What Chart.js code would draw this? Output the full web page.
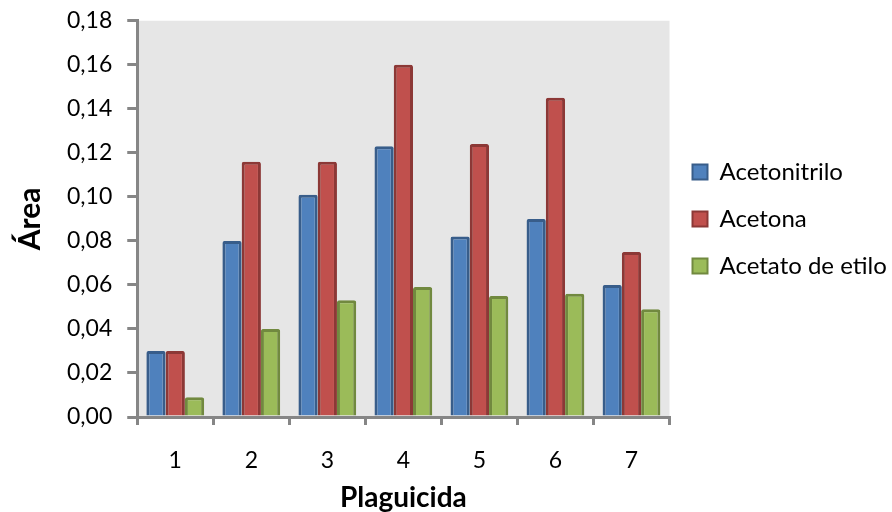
<!DOCTYPE html>
<html>
<head>
<meta charset="utf-8">
<script src="https://cdn.jsdelivr.net/npm/chart.js@4"></script>
<style>
  html, body { margin: 0; padding: 0; background: #fff; }
  #wrap { width: 892px; height: 512px; }
</style>
</head>
<body>
<div id="wrap"><canvas id="chartBox" width="892" height="512"></canvas></div>
<script>
// datos
var categorias = ['1', '2', '3', '4', '5', '6', '7'];
var acetonitrilo = [0.030, 0.080, 0.101, 0.123, 0.082, 0.090, 0.060];
var acetona = [0.030, 0.116, 0.116, 0.160, 0.124, 0.145, 0.075];
var acetatoEtilo = [0.009, 0.040, 0.053, 0.059, 0.055, 0.056, 0.049];
var series = ['Acetonitrilo', 'Acetona', 'Acetato de etilo'];

var fuente = "Lato";

// fondo gris del area de trazado
var fondoPlot = {
  id: 'fondoPlot',
  beforeDraw: function(chart) {
    var a = chart.chartArea, c = chart.ctx;
    c.save();
    c.fillStyle = '#e6e6e6';
    c.fillRect(a.left, a.top, a.right - a.left, a.bottom - a.top);
    c.restore();
  }
};

function drawChart(ctx) {
  return new Chart(ctx, {
    type: 'bar',
    data: {
      labels: categorias,
      datasets: [{
        label: series[0],
        data: acetonitrilo,
        backgroundColor: '#4f81bd',
        borderColor: '#385d8a',
        borderWidth: 3,
        borderRadius: 2,
        borderSkipped: 'bottom'
      }, {
        label: series[1],
        data: acetona,
        backgroundColor: '#c0504d',
        borderColor: '#8c3836',
        borderWidth: 3,
        borderRadius: 2,
        borderSkipped: 'bottom'
      }, {
        label: series[2],
        data: acetatoEtilo,
        backgroundColor: '#9bbb59',
        borderColor: '#71893f',
        borderWidth: 3,
        borderRadius: 2,
        borderSkipped: 'bottom'
      }]
    },
    options: {
      responsive: false,
      animation: false,
      datasets: { bar: { categoryPercentage: 0.76, barPercentage: 1 } },
      layout: { padding: { top: 0, right: 2, bottom: 0, left: 8 } },
      plugins: {
        legend: {
          position: 'right',
          align: 'center',
          fullSize: false,
          labels: {
            font: { family: fuente, size: 24 },
            color: '#000',
            boxWidth: 15,
            boxHeight: 15,
            padding: 23,
            generateLabels: function(chart) {
              return chart.data.datasets.map(function(ds, i) {
                return {
                  text: ds.label,
                  fillStyle: ds.backgroundColor,
                  strokeStyle: ds.borderColor,
                  lineWidth: 2,
                  datasetIndex: i
                };
              });
            }
          }
        },
        tooltip: { enabled: false }
      },
      scales: {
        x: {
          grid: { drawOnChartArea: false, drawTicks: true, tickLength: 8, color: '#868686', lineWidth: 3 },
          border: { color: '#868686', width: 3 },
          ticks: { font: { family: fuente, size: 23, lineHeight: 1 }, color: '#000', padding: 24 },
          title: { display: true, text: 'Plaguicida', font: { family: fuente, size: 28, weight: 'bold', lineHeight: 1 }, color: '#000', padding: { top: -12, bottom: 0 } }
        },
        y: {
          min: 0,
          max: 0.18,
          grid: { drawOnChartArea: false, drawTicks: true, tickLength: 10, color: '#868686', lineWidth: 3 },
          border: { color: '#868686', width: 3 },
          ticks: {
            stepSize: 0.02,
            font: { family: fuente, size: 23, lineHeight: 0.5 },
            color: '#000',
            padding: 15,
            callback: function(v) { return v.toFixed(2).replace('.', ','); }
          },
          title: { display: true, text: 'Área', font: { family: fuente, size: 30, weight: 'bold' }, color: '#000', padding: { bottom: 4 } }
        }
      }
    },
    plugins: [fondoPlot]
  });
}

drawChart(document.getElementById('chartBox'));
</script>
</body>
</html>
